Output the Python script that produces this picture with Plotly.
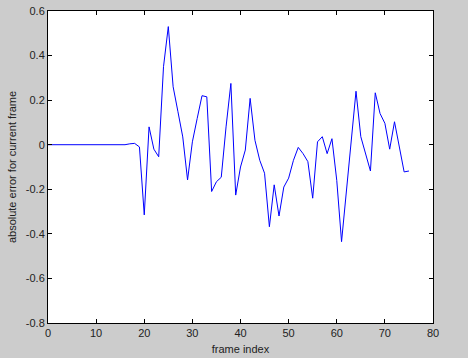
import plotly.graph_objects as go

frames = list(range(0, 76))
errors = [0.0] * 17 + [
    0.004, 0.006, -0.01, -0.315, 0.08, -0.02, -0.054, 0.35, 0.53, 0.26,
    0.148, 0.035, -0.158, 0.013, 0.118, 0.22, 0.215, -0.21, -0.166, -0.146,
    0.08, 0.275, -0.226, -0.1, -0.024, 0.208, 0.02, -0.07, -0.128, -0.368,
    -0.18, -0.32, -0.19, -0.15, -0.07, -0.012, -0.04, -0.076, -0.24, 0.013,
    0.036, -0.04, 0.027, -0.16, -0.435, -0.21, 0.04, 0.24, 0.036, -0.04,
    -0.118, 0.233, 0.14, 0.096, -0.02, 0.103, -0.005, -0.122, -0.118,
]

x_ticks = [0, 10, 20, 30, 40, 50, 60, 70, 80]
y_ticks = [-0.8, -0.6, -0.4, -0.2, 0, 0.2, 0.4, 0.6]
y_labels = ["-0.8", "-0.6", "-0.4", "-0.2", "0", "0.2", "0.4", "0.6"]

fig = go.Figure()
fig.add_trace(go.Scatter(x=frames, y=errors, mode="lines",
                         line=dict(color="#0000ff", width=1), showlegend=False))

axis_common = dict(showline=True, linecolor="black", linewidth=1, mirror="ticks",
                   ticks="inside", ticklen=4, tickcolor="black", showgrid=False,
                   zeroline=False, automargin=False,
                   tickfont=dict(family="Liberation Sans", size=11, color="#222"))

fig.update_xaxes(range=[0, 80], tickvals=x_ticks,
                 title=dict(text="frame index", standoff=7,
                            font=dict(family="Liberation Sans", size=11, color="#222")),
                 **axis_common)
fig.update_yaxes(range=[-0.8, 0.6], tickvals=y_ticks, ticktext=y_labels,
                 title=dict(text="absolute error for current frame", standoff=6,
                            font=dict(family="Liberation Sans", size=11, color="#222")),
                 **axis_common)

fig.update_layout(width=468, height=358, margin=dict(l=48, r=35, t=11, b=35),
                  paper_bgcolor="#cccccc", plot_bgcolor="white")

fig.write_html("out.html", config={"displayModeBar": False},
               post_script="document.body.style.margin='0';")
